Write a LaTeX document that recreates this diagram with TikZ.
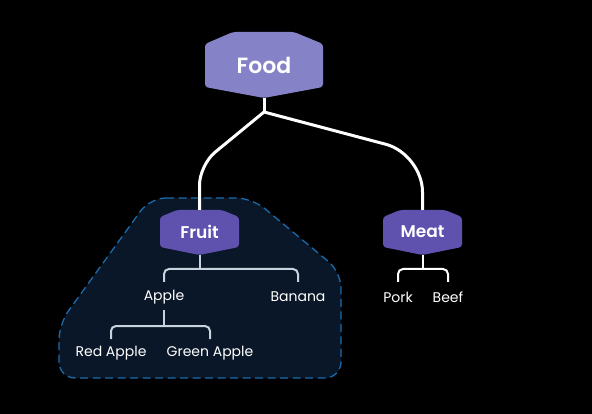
\documentclass[tikz,border=0pt]{standalone}
\usepackage{fontspec}
\setmainfont{Poppins}
\newfontfamily\medfont{Poppins SemiBold}
\definecolor{bgc}{HTML}{000000}
\definecolor{foodc}{HTML}{8582C8}
\definecolor{catc}{HTML}{5F52AE}
\definecolor{regfill}{HTML}{0A1729}
\definecolor{regline}{HTML}{1B6BAA}
\definecolor{leafc}{HTML}{C9D3DE}
\begin{document}
\begin{tikzpicture}[x=1pt,y=-1pt,
  mainline/.style={white,line width=3pt,rounded corners=22pt},
  leafconn/.style={leafc,line width=2pt,rounded corners=5pt},
  meatconn/.style={white,line width=2pt,rounded corners=5pt},
  leaf/.style={text=white,font=\fontsize{14}{16}\selectfont,inner sep=0pt},
  cattext/.style={text=white,font=\medfont\fontsize{17}{20}\selectfont,inner sep=0pt},
  hexfill/.style={rounded corners=3pt}]
\fill[bgc] (0,0) rectangle (592,414);
\useasboundingbox (0,0) rectangle (592,414);
% region
\draw[regline,fill=regfill,line width=1.3pt,dash pattern=on 8pt off 4.5pt,rounded corners=16pt]
  (150,198) -- (252,198) -- (341,272) -- (341,378) -- (59,378) -- (59,324) -- cycle;
% Food shape
\fill[foodc,hexfill] (205,44) -- (233,32) -- (294,32) -- (323,44) -- (323,87) -- (264,98) -- (205,87) -- cycle;
\node[cattext,font=\medfont\fontsize{22}{26}\selectfont] (food) at (264,65) {Food};
\coordinate (foodb) at (264,98);
% Fruit shape
\fill[catc,hexfill] (160,217) -- (177,210) -- (222,210) -- (239,217) -- (239,247) -- (199.5,255) -- (160,247) -- cycle;
\node[cattext] (fruit) at (199.5,232) {Fruit};
\coordinate (fruitt) at (199.5,210);
\coordinate (fruitb) at (199.5,255);
% Meat shape
\fill[catc,hexfill] (383,217) -- (400,210) -- (445,210) -- (462,217) -- (462,247) -- (422.5,255) -- (383,247) -- cycle;
\node[cattext] (meat) at (422.5,232) {Meat};
\coordinate (meatt) at (422.5,210);
\coordinate (meatb) at (422.5,255);
% main connectors
\coordinate (junc) at (264,112);
\draw[mainline,line cap=butt] (foodb) -- (junc);
\draw[mainline,rounded corners=20pt] (junc) -- (199.5,165) -- (fruitt);
\draw[mainline,rounded corners=38pt] (junc) -- (422.5,154) -- (meatt);
% leaves
\node[leaf] (apple) at (164,297) {Apple};
\node[leaf] (banana) at (298,297) {Banana};
\node[leaf] (red) at (111,353) {Red Apple};
\node[leaf] (green) at (210,353) {Green Apple};
\node[leaf] (pork) at (398,297) {Pork};
\node[leaf] (beef) at (448,297) {Beef};
\draw[leafconn] (fruitb) -- (199.5,269);
\draw[leafconn] (apple.north |- 0,282) -- (164,269) -- (298,269) -- (banana.north |- 0,282);
\draw[leafconn] (apple.south |- 0,310) -- (164,326);
\draw[leafconn] (red.north |- 0,339) -- (111,326) -- (210,326) -- (green.north |- 0,339);
\draw[meatconn] (meatb) -- (422.5,269);
\draw[meatconn] (pork.north |- 0,282) -- (398,269) -- (448,269) -- (beef.north |- 0,282);
\end{tikzpicture}
\end{document}
